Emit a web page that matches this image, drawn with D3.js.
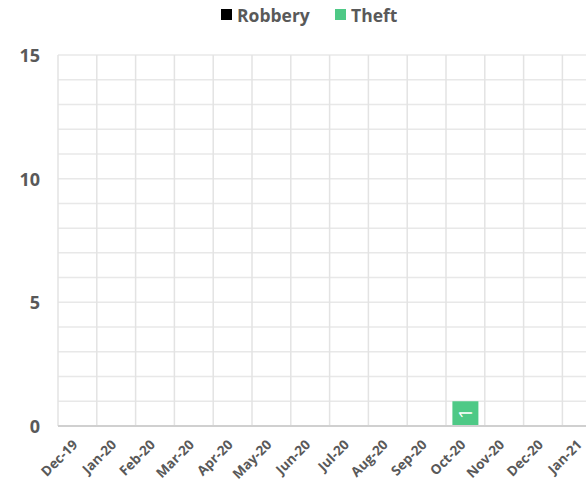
<!DOCTYPE html>
<html>
<head>
<meta charset="utf-8">
<script src="https://cdn.jsdelivr.net/npm/d3@7"></script>
<style>
  body { margin: 0; background: #fff; }
  text { font-family: "Open Sans", sans-serif; font-weight: bold; fill: #595959; }
</style>
</head>
<body>
<svg width="586" height="484"></svg>
<script>
// data
const months = ["Dec-19","Jan-20","Feb-20","Mar-20","Apr-20","May-20","Jun-20","Jul-20","Aug-20","Sep-20","Oct-20","Nov-20","Dec-20","Jan-21"];
const robbery = [0,0,0,0,0,0,0,0,0,0,0,0,0,0];
const theft   = [0,0,0,0,0,0,0,0,0,0,1,0,0,0];
const seriesNames = ["Robbery", "Theft"];
const seriesColors = ["#000000", "#4ec986"];
const yTicks = [0, 5, 10, 15];

const svg = d3.select("svg");
const plotLeft = 58, plotTop = 55, plotBottom = 426;

const x = d3.scaleBand().domain(months).range([plotLeft, plotLeft + 14 * 38.8]).padding(0);
const y = d3.scaleLinear().domain([0, 15]).range([plotBottom, plotTop]);

// horizontal grid every 1
svg.append("g").selectAll("line")
  .data(d3.range(1, 16))
  .enter().append("line")
  .attr("x1", plotLeft).attr("x2", 586)
  .attr("y1", d => y(d)).attr("y2", d => y(d))
  .attr("stroke", "#e8e8e8").attr("stroke-width", 1.5);

// vertical grid at band edges
svg.append("g").selectAll("line")
  .data(months)
  .enter().append("line")
  .attr("x1", d => x(d)).attr("x2", d => x(d))
  .attr("y1", plotTop).attr("y2", plotBottom)
  .attr("stroke", "#e3e3e3").attr("stroke-width", 1.5);

// bars (stacked)
const barW = 26;
const stacked = months.map((m, i) => ({month: m, Robbery: robbery[i], Theft: theft[i]}));
const stack = d3.stack().keys(seriesNames)(stacked);
stack.forEach((s, si) => {
  svg.append("g").selectAll("rect")
    .data(s.filter(d => d[1] - d[0] > 0))
    .enter().append("rect")
    .attr("x", d => x(d.data.month) + x.bandwidth() / 2 - barW / 2)
    .attr("y", d => y(d[1]))
    .attr("width", barW)
    .attr("height", d => y(d[0]) - y(d[1]))
    .attr("fill", seriesColors[si]);
  svg.append("g").selectAll("text")
    .data(s.filter(d => d[1] - d[0] > 0))
    .enter().append("text")
    .attr("transform", d => `translate(${x(d.data.month) + x.bandwidth() / 2},${(y(d[0]) + y(d[1])) / 2}) rotate(-90)`)
    .attr("text-anchor", "middle")
    .attr("dominant-baseline", "central")
    .style("fill", "#fff")
    .style("font-weight", "normal")
    .attr("font-size", "19px")
    .text(d => d[1] - d[0]);
});

// x axis line
svg.append("line")
  .attr("x1", plotLeft).attr("x2", 586)
  .attr("y1", plotBottom).attr("y2", plotBottom)
  .attr("stroke", "#d0d0d0").attr("stroke-width", 2);

// y labels
svg.append("g").selectAll("text")
  .data(yTicks)
  .enter().append("text")
  .attr("x", 40).attr("y", d => y(d))
  .attr("text-anchor", "end")
  .attr("dominant-baseline", "central")
  .attr("font-size", "18px")
  .text(d => d);

// x labels
svg.append("g").selectAll("text")
  .data(months)
  .enter().append("text")
  .attr("transform", d => `translate(${x(d) + x.bandwidth() / 2 - 2.5},${plotBottom + 16}) rotate(-45)`)
  .attr("text-anchor", "end")
  .attr("dominant-baseline", "central")
  .attr("font-size", "13.5px")
  .text(d => d);

// legend
const legendX = [221, 335];
seriesNames.forEach((n, i) => {
  svg.append("rect").attr("x", legendX[i]).attr("y", 9).attr("width", 11).attr("height", 11).attr("fill", seriesColors[i]);
  svg.append("text").attr("x", legendX[i] + 16).attr("y", 15)
    .attr("dominant-baseline", "central").attr("font-size", "17.5px").text(n);
});
</script>
</body>
</html>
